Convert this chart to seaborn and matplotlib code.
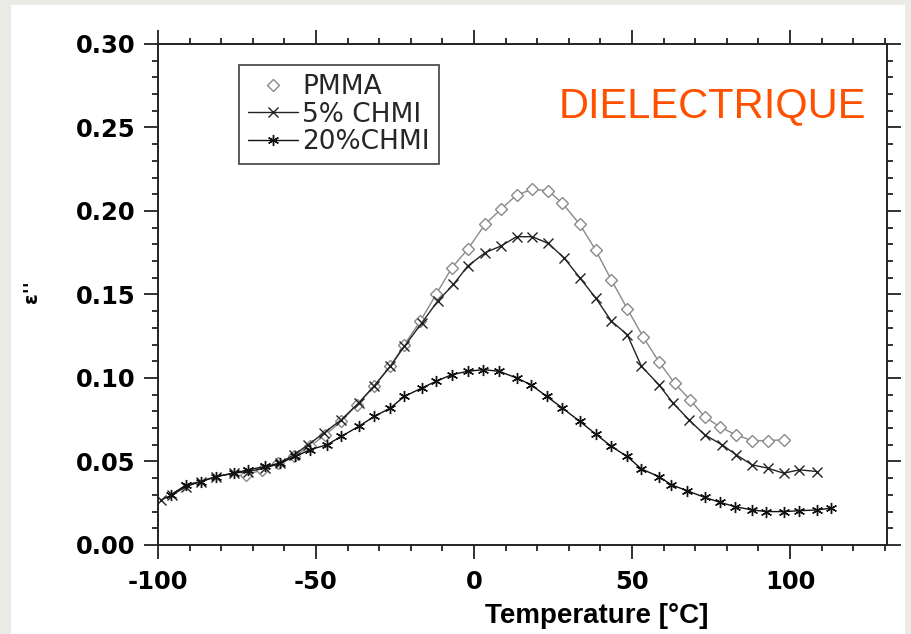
import matplotlib
matplotlib.use("Agg")
import matplotlib.pyplot as plt
import seaborn as sns
import pandas as pd
from matplotlib.lines import Line2D
from matplotlib.patches import Rectangle
from matplotlib.ticker import MultipleLocator

# Data
x_pmma = [-72, -67, -62, -57, -52, -47, -42, -37, -31.5, -26.5, -22, -17, -12, -7, -2, 3.5, 8.5, 13.5,
          18.5, 23.5, 28, 33.5, 38.5, 43.5, 48.5, 53.5, 58.5, 63.5, 68.5, 73, 78, 83, 88, 93, 98]
y_pmma = [0.042, 0.045, 0.049, 0.053, 0.059, 0.066, 0.074, 0.084, 0.095, 0.107, 0.120, 0.134, 0.150,
          0.166, 0.177, 0.192, 0.201, 0.2096, 0.213, 0.2122, 0.2046, 0.192, 0.1766, 0.1587, 0.1415,
          0.1247, 0.1098, 0.0968, 0.0868, 0.0768, 0.0705, 0.0659, 0.0625, 0.0625, 0.063]

x_5 = [-99, -95.5, -91, -86.5, -81.5, -76, -71.5, -66, -61.5, -57, -52.5, -47.5, -42, -36.5, -31.5,
       -26.5, -22, -16.5, -11.5, -6.5, -2, 3.5, 8.5, 13.5, 18.5, 23.5, 28.5, 33.5, 38.5, 43.5, 48.5,
       53, 58.5, 63, 68, 73, 78.5, 83, 88, 93, 98, 103, 108.5]
y_5 = [0.027, 0.030, 0.035, 0.038, 0.041, 0.043, 0.044, 0.046, 0.049, 0.054, 0.060, 0.067, 0.075,
       0.085, 0.0955, 0.107, 0.119, 0.133, 0.146, 0.156, 0.167, 0.175, 0.179, 0.1846, 0.1846, 0.1806,
       0.172, 0.160, 0.148, 0.134, 0.126, 0.107, 0.096, 0.085, 0.075, 0.066, 0.060, 0.054, 0.048,
       0.046, 0.043, 0.045, 0.044]

x_20 = [-96, -91, -86.5, -81.5, -76, -71.5, -66, -61.5, -56.5, -52, -46.5, -42, -36.5, -31.5, -26.5,
        -22, -16.5, -12, -7, -2, 3, 8, 13.5, 18, 23, 28, 33.5, 38.5, 43.5, 48.5, 53, 58.5, 62.5, 67.5,
        73, 78, 82.5, 88, 92.5, 98, 103, 108.5, 113]
y_20 = [0.030, 0.036, 0.038, 0.041, 0.043, 0.045, 0.047, 0.049, 0.053, 0.057, 0.060, 0.065, 0.071,
        0.077, 0.082, 0.089, 0.094, 0.098, 0.102, 0.104, 0.105, 0.104, 0.100, 0.096, 0.089, 0.082,
        0.074, 0.0665, 0.059, 0.053, 0.0455, 0.041, 0.036, 0.0325, 0.0285, 0.0255, 0.023, 0.021,
        0.020, 0.020, 0.0205, 0.021, 0.022]

labels = ["PMMA", "5% CHMI", "20%CHMI"]

sns.set_theme(style="ticks")
plt.rcParams['font.family'] = ['DejaVu Sans']
plt.rcParams['axes.unicode_minus'] = False

fig = plt.figure(figsize=(9.11, 6.34), dpi=100, facecolor="#ebeae5")
# white panel behind the plot
fig.patches.append(Rectangle((0.012, 0.0), 0.981, 0.992, transform=fig.transFigure,
                             facecolor="white", edgecolor="none", zorder=-10))
ax = fig.add_axes([0.1734, 0.1404, 0.8002, 0.7902])
ax.set_zorder(1)
ax.set_facecolor("white")

asterisk = (6, 2, 0)
sns.lineplot(x=x_pmma, y=y_pmma, ax=ax, color="#8a8a8a", lw=1.0, marker="D", markersize=6,
             markerfacecolor="white", markeredgecolor="#8a8a8a", markeredgewidth=1.0)
sns.lineplot(x=x_5, y=y_5, ax=ax, color="#222222", lw=1.0, marker="x", markersize=7,
             markeredgecolor="#222222", markeredgewidth=1.0)
sns.lineplot(x=x_20, y=y_20, ax=ax, color="#111111", lw=1.0, marker=asterisk, markersize=8,
             markeredgecolor="#111111", markeredgewidth=1.0)

ax.set_xlim(-100, 130.7)
ax.set_ylim(0, 0.30)
ax.xaxis.set_major_locator(MultipleLocator(50))
ax.xaxis.set_minor_locator(MultipleLocator(10))
ax.yaxis.set_major_locator(MultipleLocator(0.05))
ax.yaxis.set_minor_locator(MultipleLocator(0.01))
ax.yaxis.set_major_formatter(matplotlib.ticker.FormatStrFormatter("%.2f"))

for sp in ax.spines.values():
    sp.set_visible(True)
    sp.set_linewidth(1.4)
    sp.set_color("#222222")
ax.tick_params(which="both", direction="out", top=True, right=True, color="#222222", width=1.3)
ax.tick_params(which="major", length=10, pad=6)
ax.tick_params(which="minor", length=4)
ax.tick_params(axis="both", which="major", labelsize=17.5, labelcolor="#000000")
for t in ax.get_xticklabels() + ax.get_yticklabels():
    t.set_fontweight("bold")
ax.tick_params(axis="x", which="major", pad=8)

ax.set_xlabel("Temperature [°C]", fontsize=20, fontweight="bold", family="Liberation Sans",
              color="black")
ax.xaxis.set_label_coords(0.602, -0.115)
ax.set_ylabel("ε''", fontsize=14, fontweight="bold", color="black")
ax.yaxis.set_label_coords(-0.16, 0.505)

handles = [
    Line2D([], [], linestyle="none", marker="D", markersize=6, markerfacecolor="white",
           markeredgecolor="#8a8a8a"),
    Line2D([], [], color="#222222", lw=1.0, marker="x", markersize=7),
    Line2D([], [], color="#111111", lw=1.0, marker=asterisk, markersize=8),
]
leg = ax.legend(handles, labels, loc="upper left", bbox_to_anchor=(0.111, 0.958),
                frameon=True, fancybox=False, edgecolor="#222222",
                prop={"family": "DejaVu Sans", "size": 19},
                handlelength=1.9, handletextpad=0.15, labelspacing=0.05, borderpad=0.35,
                borderaxespad=0)
leg.get_frame().set_linewidth(1.3)

fig.text(0.7816, 0.8155, "DIELECTRIQUE", color="#ff5000", fontsize=30,
         family="Liberation Sans", ha="center", va="baseline")

fig.savefig("out.png", dpi=100, facecolor=fig.get_facecolor())
